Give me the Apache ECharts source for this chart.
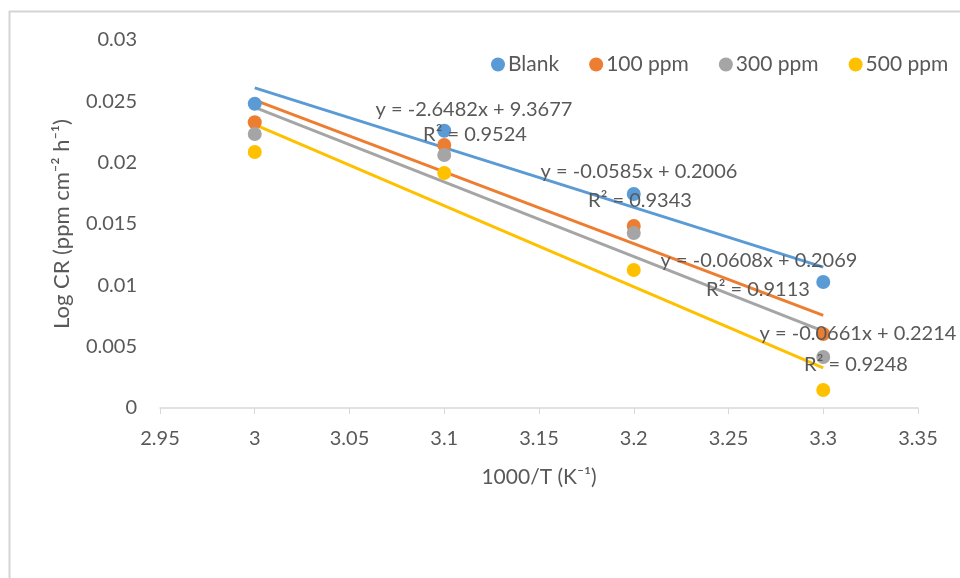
<!DOCTYPE html>
<html>
<head>
<meta charset="utf-8">
<script src="https://cdn.jsdelivr.net/npm/echarts@6/dist/echarts.min.js"></script>
<style>
  html, body { margin: 0; padding: 0; background: #ffffff; }
  #chart { width: 960px; height: 578px; }
</style>
</head>
<body>
<div id="chart"></div>
<script>
// Arrhenius-type plot: log corrosion rate against reciprocal temperature
const invTemp = [3.0, 3.1, 3.2, 3.3];
const seriesNames = ['Blank', '100 ppm', '300 ppm', '500 ppm'];
const blank = [0.0248, 0.0226, 0.01745, 0.01027];
const ppm100 = [0.0233, 0.02144, 0.01484, 0.00603];
const ppm300 = [0.02234, 0.02063, 0.01427, 0.00416];
const ppm500 = [0.02087, 0.01916, 0.01125, 0.00147];

// Linear trendline coefficients (y = slope * x + intercept)
const trendSlopes = [-0.0487, -0.0585, -0.0608, -0.0661];
const trendIntercepts = [0.1722, 0.2006, 0.2069, 0.2214];

// Equation labels shown beside the trendlines
const eqLabels = ['y = -2.6482x + 9.3677', 'y = -0.0585x + 0.2006', 'y = -0.0608x + 0.2069', 'y = -0.0661x + 0.2214'];
const r2Labels = ['R\u00b2 = 0.9524', 'R\u00b2 = 0.9343', 'R\u00b2 = 0.9113', 'R\u00b2 = 0.9248'];

const xTicks = [2.95, 3, 3.05, 3.1, 3.15, 3.2, 3.25, 3.3, 3.35];
const yTicks = [0, 0.005, 0.01, 0.015, 0.02, 0.025, 0.03];

const colors = ['#5B9BD5', '#ED7D31', '#A5A5A5', '#FFC000'];
const values = [blank, ppm100, ppm300, ppm500];
const FONT = 'Lato, "Open Sans", sans-serif';
const TXT = '#595959';

const series = [];
values.forEach((vals, i) => {
  series.push({
    name: seriesNames[i],
    type: 'scatter',
    symbol: 'circle',
    symbolSize: 14,
    itemStyle: { color: colors[i], opacity: 1 },
    data: invTemp.map((x, k) => [x, vals[k]]),
    z: 2
  });
  const x0 = invTemp[0], x1 = invTemp[invTemp.length - 1];
  series.push({
    name: seriesNames[i] + ' trend',
    type: 'line',
    showSymbol: false,
    symbol: 'none',
    lineStyle: { color: colors[i], width: 3 },
    data: [[x0, trendSlopes[i] * x0 + trendIntercepts[i]], [x1, trendSlopes[i] * x1 + trendIntercepts[i]]],
    z: 2
  });
});

// Equation label placement (pixel centres of each text line)
const eqPos = [[474, 110], [639, 172], [759, 261], [858, 334]];
const r2Pos = [[475, 135], [640, 201], [758, 290], [856, 365]];

const graphic = [
  // chart frame
  { type: 'line', shape: { x1: 9, y1: 11.5, x2: 960, y2: 11.5 }, style: { stroke: '#d4d4d4', lineWidth: 2 }, z: 0 },
  { type: 'line', shape: { x1: 9.5, y1: 11, x2: 9.5, y2: 578 }, style: { stroke: '#d4d4d4', lineWidth: 2 }, z: 0 }
];
eqLabels.forEach((t, i) => {
  graphic.push({ type: 'text', x: eqPos[i][0], y: eqPos[i][1], z: 10,
    style: { text: t, fill: TXT, font: '20px ' + FONT, textAlign: 'center', textVerticalAlign: 'middle' } });
  graphic.push({ type: 'text', x: r2Pos[i][0], y: r2Pos[i][1], z: 10,
    style: { text: r2Labels[i], fill: TXT, font: '20px ' + FONT, textAlign: 'center', textVerticalAlign: 'middle' } });
});

const chart = echarts.init(document.getElementById('chart'), null, { renderer: 'canvas' });
chart.setOption({
  animation: false,
  backgroundColor: '#ffffff',
  textStyle: { fontFamily: FONT },
  grid: { left: 160, right: 42, top: 40, bottom: 170, containLabel: false },
  legend: {
    data: seriesNames,
    left: 486, top: 49,
    icon: 'circle',
    itemWidth: 14, itemHeight: 14, itemGap: 30,
    textStyle: { color: TXT, fontSize: 21, fontFamily: FONT, padding: [0, 0, 0, -2] }
  },
  xAxis: {
    type: 'value',
    min: xTicks[0], max: xTicks[xTicks.length - 1], interval: 0.05,
    name: '1000/T (K\u207b\u00b9)',
    nameLocation: 'middle', nameGap: 59,
    nameTextStyle: { color: TXT, fontSize: 21, fontFamily: FONT },
    axisLine: { show: true, lineStyle: { color: '#d9d9d9', width: 1.5 } },
    axisTick: { show: true, length: 6, lineStyle: { color: '#d9d9d9' } },
    axisLabel: { color: TXT, fontSize: 20, margin: 21, fontFamily: FONT,
      formatter: v => String(Math.round(v * 100) / 100) },
    splitLine: { show: false }
  },
  yAxis: {
    type: 'value',
    min: yTicks[0], max: yTicks[yTicks.length - 1], interval: 0.005,
    name: 'Log CR (ppm cm\u207b\u00b2 h\u207b\u00b9)',
    nameLocation: 'middle', nameGap: 87, nameRotate: 90,
    nameTextStyle: { color: TXT, fontSize: 22, fontFamily: FONT },
    axisLine: { show: false },
    axisTick: { show: false },
    axisLabel: { color: TXT, fontSize: 20, margin: 23, fontFamily: FONT,
      formatter: v => String(Math.round(v * 1000) / 1000) },
    splitLine: { show: false }
  },
  series: series,
  graphic: graphic
});
</script>
</body>
</html>
